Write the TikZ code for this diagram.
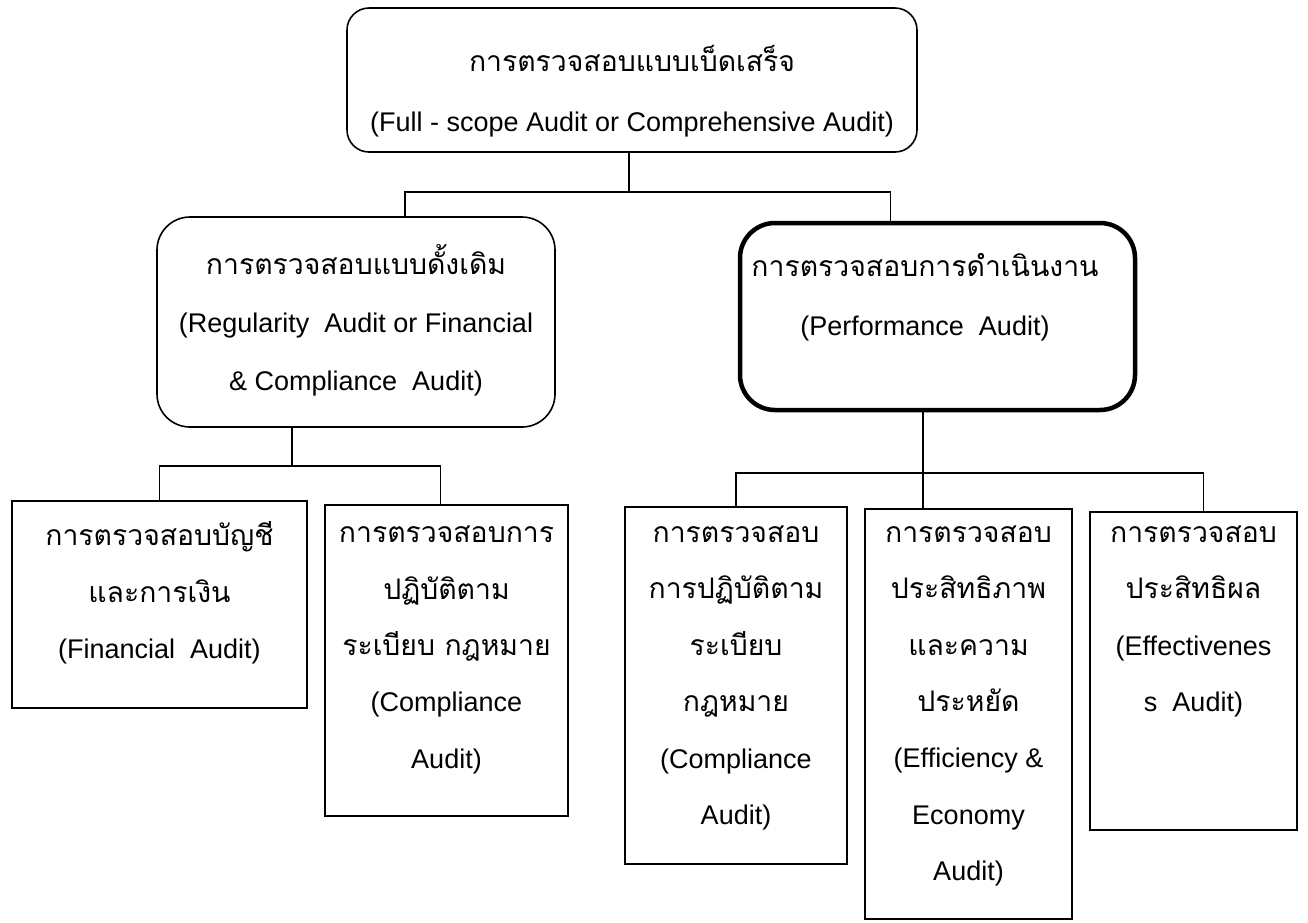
\documentclass[tikz,border=0pt]{standalone}
\usepackage{fontspec}
\setmainfont{Liberation Sans}
\newfontfamily\thaifont[Script=Thai,Scale=1.05]{Loma}
\newcommand{\thai}[1]{{\thaifont #1}}
\usetikzlibrary{calc}

\begin{document}
\begin{tikzpicture}[
  x=1pt, y=-1pt,
  box/.style={draw, line width=1.6pt, inner sep=0pt},
  rbox/.style={box, rounded corners=#1},
  txt/.style={align=center, inner sep=0pt, font=\fontsize{27}{56.4}\selectfont},
  link/.style={line width=1.6pt},
]
\useasboundingbox (0,0) rectangle (1308,922);
% top level
\node[rbox=22pt, minimum width=570pt, minimum height=144pt] (full) at (632,80) {};
\node[txt, font=\fontsize{27}{60}\selectfont] (full-t) at (632,91)
  {\thai{การตรวจสอบแบบเบ็ดเสร็จ}\\(Full - scope Audit or Comprehensive Audit)};
% second level
\node[rbox=33pt, minimum width=398pt, minimum height=210pt] (reg) at (356,322) {};
\node[txt, font=\fontsize{27}{58}\selectfont] (reg-t) at (356,320)
  {\thai{การตรวจสอบแบบดั้งเดิม}\\(Regularity\ \ Audit or Financial\\\& Compliance\ \ Audit)};
\node[rbox=35pt, minimum width=395pt, minimum height=187pt, line width=4.5pt] (perf) at (937.5,316.5) {};
\node[txt, font=\fontsize{27}{59}\selectfont] (perf-t) at (925,297.5)
  {\thai{การตรวจสอบการดำเนินงาน}\\(Performance\ \ Audit)};
% third level, left
\node[box, minimum width=295pt, minimum height=207pt] (fin) at (159.5,604.5) {};
\node[txt] (fin-t) at (159.5,593)
  {\thai{การตรวจสอบบัญชี}\\\thai{และการเงิน}\\(Financial\ \ Audit)};
\node[box, minimum width=243pt, minimum height=311pt] (comp) at (446.5,660.5) {};
\node[txt] (comp-t) at (446.5,650)
  {\thai{การตรวจสอบการ}\\\thai{ปฏิบัติตาม}\\\thai{ระเบียบ กฎหมาย}\\(Compliance\\Audit)};
% third level, right
\node[box, minimum width=222pt, minimum height=357pt] (pcomp) at (736,685.5) {};
\node[txt] (pcomp-t) at (736,678)
  {\thai{การตรวจสอบ}\\\thai{การปฏิบัติตาม}\\\thai{ระเบียบ}\\\thai{กฎหมาย}\\(Compliance\\Audit)};
\node[box, minimum width=207pt, minimum height=410pt] (econ) at (968.5,714) {};
\node[txt] (econ-t) at (968.5,706)
  {\thai{การตรวจสอบ}\\\thai{ประสิทธิภาพ}\\\thai{และความ}\\\thai{ประหยัด}\\(Efficiency \&\\Economy\\Audit)};
\node[box, minimum width=207pt, minimum height=318pt] (effe) at (1193.5,671) {};
\node[txt] (effe-t) at (1193.5,621.5)
  {\thai{การตรวจสอบ}\\\thai{ประสิทธิผล}\\(Effectivenes\\s\ \ Audit)};
% connectors
\coordinate (bus1) at (629,192);
\coordinate (bus2) at (292,466);
\coordinate (bus3) at (923,473);
\draw[link] (full.south -| bus1) -- (bus1);
\draw[link] ([xshift=49pt]reg.north) |- (bus1) -| ([xshift=-47pt]perf.north);
\draw[link] (reg.south -| bus2) -- (bus2);
\draw[link] (fin.north) |- (bus2) -| ([xshift=-6pt]comp.north);
\draw[link] (perf.south -| bus3) -- (bus3);
\draw[link] (pcomp.north) |- (bus3) -| ([xshift=10pt]effe.north);
\draw[link] (bus3) -- (econ.north -| bus3);
\end{tikzpicture}
\end{document}
